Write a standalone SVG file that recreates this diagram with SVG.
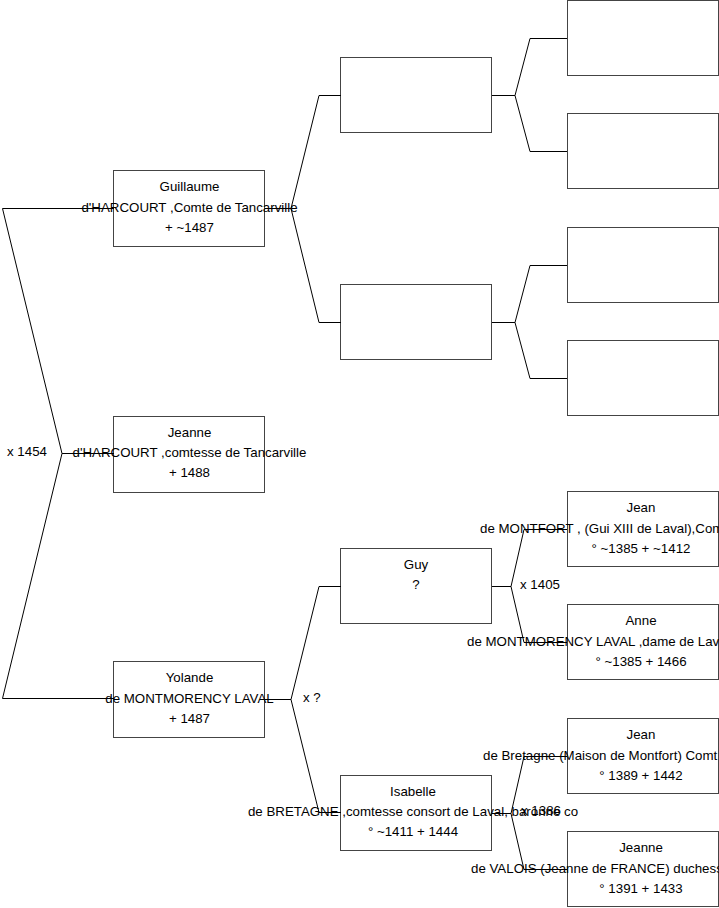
<svg xmlns="http://www.w3.org/2000/svg" width="719" height="908" viewBox="0 0 719 908">
<style>
rect.box{fill:#fff;stroke:#444;stroke-width:1}
text{font-family:"Liberation Sans",Arial,sans-serif;font-size:13.3px;fill:#000}
.c{text-anchor:middle}
.s{text-anchor:start}
#connectors path{fill:none;stroke:#000;stroke-width:1}
</style>
<rect width="719" height="908" fill="#fff"/>
<g id="guillaume"><rect class="box" x="113.5" y="170.5" width="151" height="76"/>
<text class="c" x="189.5" y="191">Guillaume</text><text class="c" x="189.5" y="211.5">d'HARCOURT ,Comte de Tancarville</text><text class="c" x="189.5" y="231.5">+ ~1487</text></g>
<g id="jeanne-harcourt"><rect class="box" x="113.5" y="416.5" width="151" height="76"/>
<text class="c" x="189.5" y="437">Jeanne</text><text class="c" x="189.5" y="457">d'HARCOURT ,comtesse de Tancarville</text><text class="c" x="189.5" y="477">+ 1488</text></g>
<g id="yolande"><rect class="box" x="113.5" y="661.5" width="151" height="76"/>
<text class="c" x="189.5" y="682">Yolande</text><text class="c" x="189.5" y="702.5">de MONTMORENCY LAVAL</text><text class="c" x="189.5" y="722.5">+ 1487</text></g>
<g id="g2a"><rect class="box" x="340.5" y="57.5" width="151" height="75"/></g>
<g id="g2b"><rect class="box" x="340.5" y="284.5" width="151" height="75"/></g>
<g id="guy"><rect class="box" x="340.5" y="548.5" width="151" height="75"/>
<text class="c" x="416" y="568.5">Guy</text><text class="c" x="416" y="589">?</text></g>
<g id="isabelle"><rect class="box" x="340.5" y="775.5" width="151" height="75"/>
<text class="c" x="413" y="795.5">Isabelle</text><text class="c" x="413" y="816">de BRETAGNE ,comtesse consort de Laval, baronne co</text><text class="c" x="413" y="836">° ~1411 + 1444</text></g>
<g id="g3a"><rect class="box" x="567.5" y="0.5" width="151" height="75"/></g>
<g id="g3b"><rect class="box" x="567.5" y="113.5" width="151" height="75"/></g>
<g id="g3c"><rect class="box" x="567.5" y="227.5" width="151" height="75"/></g>
<g id="g3d"><rect class="box" x="567.5" y="340.5" width="151" height="75"/></g>
<g id="jean-montfort"><rect class="box" x="567.5" y="491.5" width="151" height="75"/>
<text class="c" x="641" y="511.5">Jean</text><text class="s" x="480" y="532.5">de MONTFORT , (Gui XIII de Laval),Com</text><text class="c" x="641" y="552.5">° ~1385 + ~1412</text></g>
<g id="anne"><rect class="box" x="567.5" y="604.5" width="151" height="75"/>
<text class="c" x="641" y="624.5">Anne</text><text class="s" x="467" y="645.5">de MONTMORENCY LAVAL ,dame de Lav</text><text class="c" x="641" y="665.5">° ~1385 + 1466</text></g>
<g id="jean-bretagne"><rect class="box" x="567.5" y="718.5" width="151" height="75"/>
<text class="c" x="641" y="738.5">Jean</text><text class="s" x="483" y="759.5">de Bretagne (Maison de Montfort) Comt</text><text class="c" x="641" y="779.5">° 1389 + 1442</text></g>
<g id="jeanne-valois"><rect class="box" x="567.5" y="831.5" width="151" height="75"/>
<text class="c" x="641" y="851.5">Jeanne</text><text class="s" x="471" y="872.5">de VALOIS (Jeanne de FRANCE) duchess</text><text class="c" x="641" y="892.5">° 1391 + 1433</text></g>
<g id="connectors">
<path d="M114,208.5 H2.5 L62,453.5 L2.5,698.5 H114 M62,453.5 H114"/>
<path d="M265,208.5 H291 L319,95.5 H341 M291,208.5 L319,322.5 H341"/>
<path d="M265,699.5 H291 L319,586.5 H341 M291,699.5 L319,812.5 H341"/>
<path d="M492,95.5 H515 L530,38.5 H567 M515,95.5 L530,151.5 H567"/>
<path d="M492,322.5 H515 L530,265.5 H567 M515,322.5 L530,378.5 H567"/>
<path d="M492,586.5 H511 L524,529.5 H567 M511,586.5 L524,642.5 H567"/>
<path d="M492,813.5 H511 L524,756.5 H567 M511,813.5 L524,869.5 H567"/>
<text class="s" x="7" y="456">x 1454</text>
<text class="s" x="303" y="702">x ?</text>
<text class="s" x="520" y="588.5">x 1405</text>
<text class="s" x="521" y="814.5">x 1386</text>
</g>
</svg>
